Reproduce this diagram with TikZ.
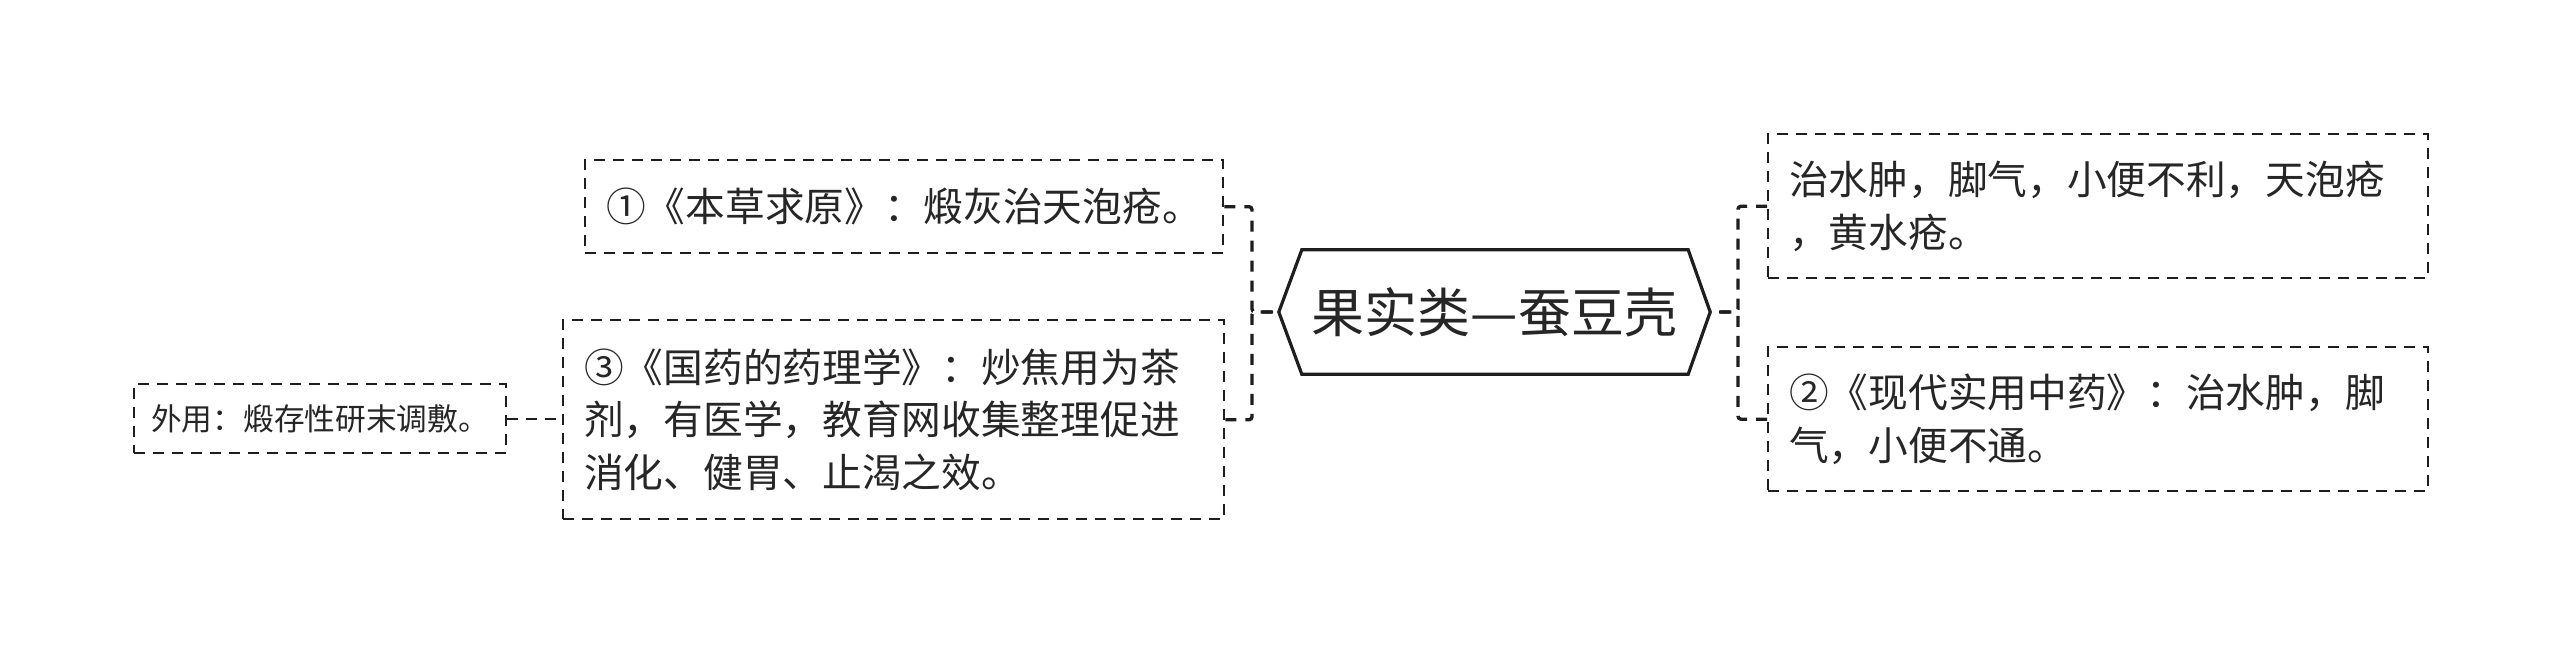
\documentclass[tikz,border=0pt]{standalone}
\usepackage{fontspec}
\setmainfont{Noto Sans CJK SC}
\definecolor{linec}{HTML}{1E1E1E}
\definecolor{textc}{HTML}{262626}
\tikzset{
  box/.style={draw=linec, line width=2.4pt, dash pattern=on 11pt off 8pt,
    inner xsep=21pt, inner ysep=0pt, align=left, text=textc,
    font=\fontsize{39.7}{52.5}\selectfont, anchor=north west},
  conn/.style={draw=linec, line width=3.4pt, dash pattern=on 11pt off 9pt, rounded corners=3pt},
  thinconn/.style={draw=linec, line width=2.4pt, dash pattern=on 11pt off 8pt},
  hexline/.style={draw=linec, line width=3.2pt, line join=miter}
}
\begin{document}
\begin{tikzpicture}[x=1pt,y=-1pt]
\useasboundingbox[fill=white] (0,0) rectangle (2560,651);

% central topic
\node[minimum width=431pt, minimum height=124pt, inner sep=0pt, text=textc,
  font=\fontsize{53}{60}\selectfont] (hex) at (1494.5,312) {果实类—蚕豆壳};
\draw[hexline] (hex.west) -- ([xshift=23pt]hex.north west) -- ([xshift=-22pt]hex.north east)
  -- (hex.east) -- ([xshift=-22pt]hex.south east) -- ([xshift=23pt]hex.south west) -- cycle;

% left children
\node[box, text width=596pt, minimum height=93pt] (b1) at (584,159)
  {①《本草求原》：煅灰治天泡疮。};
\node[box, text width=619pt, minimum height=199pt] (b3) at (562,319)
  {③《国药的药理学》：炒焦用为茶\\剂，有医学，教育网收集整理促进\\消化、健胃、止渴之效。};
\node[box, text width=338pt, inner xsep=17pt, minimum height=69pt,
  font=\fontsize{30.7}{40}\selectfont] (s) at (133,383)
  {外用：煅存性研末调敷。};

% right children
\node[box, text width=618pt, minimum height=144pt] (r1) at (1767,133)
  {治水肿，脚气，小便不利，天泡疮\\，黄水疮。};
\node[box, text width=618pt, minimum height=144pt] (r2) at (1767,346)
  {②《现代实用中药》：治水肿，脚\\气，小便不通。};

% connectors
\coordinate (lb) at (1252,312);
\coordinate (rb) at (1738,312);
\draw[conn] (b1.east) -- (b1.east -| lb) |- (hex.west);
\draw[conn] (b3.east) -- (b3.east -| lb) |- (hex.west);
\draw[conn] (r1.west) -- (r1.west -| rb) |- (hex.east);
\draw[conn] (r2.west) -- (r2.west -| rb) |- (hex.east);
\draw[thinconn] (s.east) -- (s.east -| b3.west);
\end{tikzpicture}
\end{document}
